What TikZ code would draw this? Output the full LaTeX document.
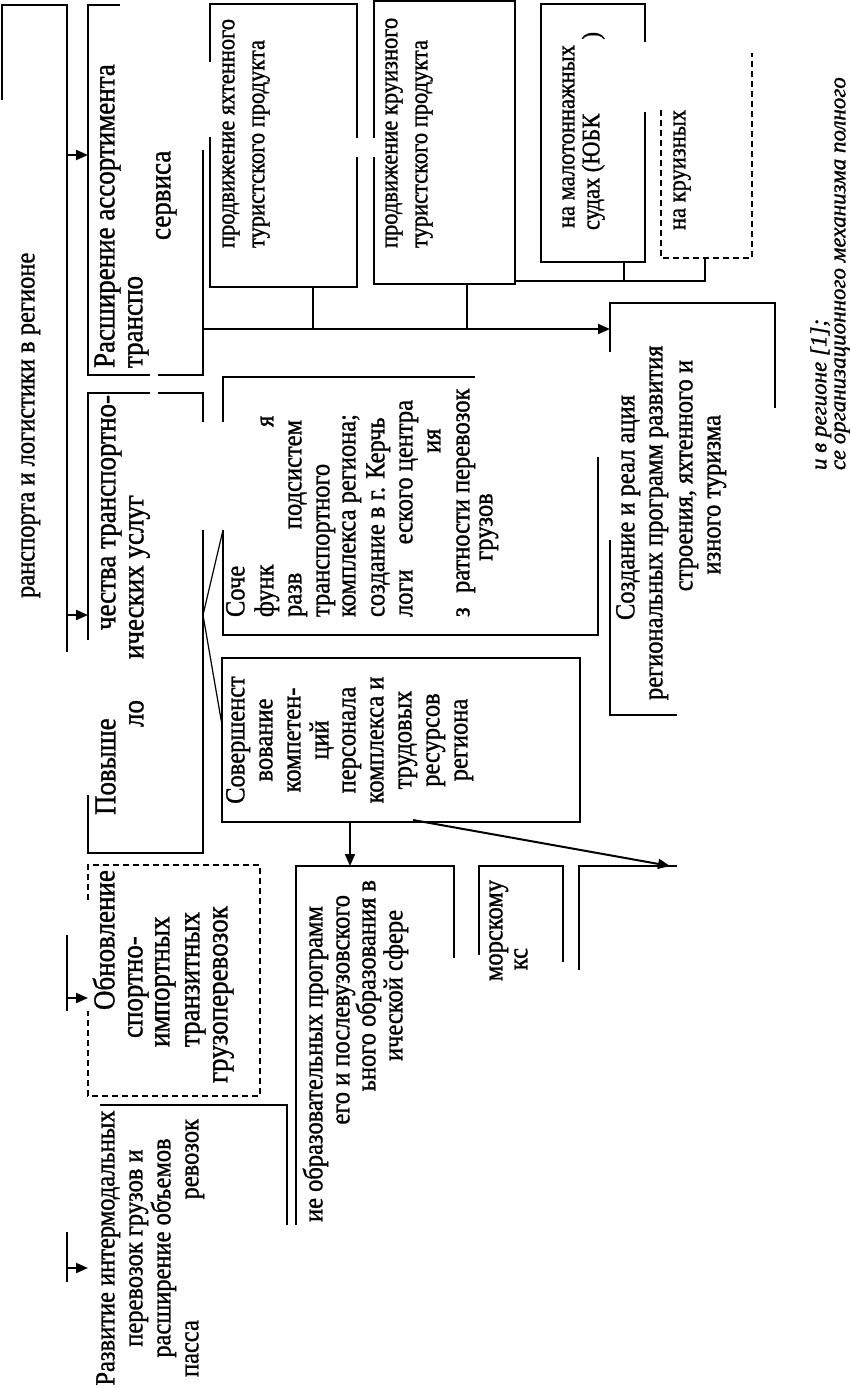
\documentclass[tikz,border=0pt]{standalone}
\usepackage{graphicx}
\usepackage{fontspec}
\setmainfont{Liberation Serif}[FakeBold=1.2]
\usetikzlibrary{arrows.meta}
\newcommand\fA{\fontsize{27}{28}\selectfont}
\newcommand\fB{\fontsize{24.5}{28}\selectfont}
\newcommand\fC{\fontsize{22.5}{28}\selectfont}
\newcommand\fD{\fontsize{23}{20}\selectfont\itshape}
\newcommand\T[1]{\scalebox{1}[1.12]{#1}}
\begin{document}
\begin{tikzpicture}[x=1pt,y=-1pt,
  bx/.style={line width=2pt},
  thn/.style={line width=1.2pt},
  dsh/.style={line width=1.8pt, dash pattern=on 6pt off 4pt},
  arr/.style={line width=2pt,-{Triangle[length=12pt,width=10pt]}},
  tx/.style={rotate=90, inner sep=0pt, outer sep=0pt}]
\useasboundingbox (0,0) rectangle (849,1389);
% ---------- frame and spine
\draw[bx] (2,100) -- (2,5) -- (67,5) -- (67,652);
\draw[bx] (67,935) -- (67,1011);
\draw[bx] (67,1232) -- (67,1282);
\coordinate (s1) at (67,155);  \coordinate (s1e) at (88,155);
\coordinate (s2) at (67,615);  \coordinate (s2e) at (88,615);
\coordinate (s3) at (67,998);  \coordinate (s3e) at (88,998);
\coordinate (s4) at (67,1268); \coordinate (s4e) at (88,1268);
\draw[arr] (s1) -- (s1e);
\draw[arr] (s2) -- (s2e);
\draw[arr] (s3) -- (s3e);
\draw[arr] (s4) -- (s4e);
\node[tx,font=\fB,anchor=mid west] (t0) at (32,598) {\T{ранспорта и логистики в регионе}};
% ---------- box A
\draw[bx] (120,5) -- (88,5) -- (88,375) -- (150,375);
\draw[bx] (158,375) -- (203,375) -- (203,150);
\node[tx,font=\fA,anchor=mid west] (a1) at (112,368) {\T{Расширение ассортимента}};
\node[tx,font=\fA,anchor=mid west] (a2) at (140,368) {\T{транспо}};
\node[tx,font=\fA,anchor=mid west] (a3) at (168,240) {\T{сервиса}};
% ---------- box B
\draw[bx] (150,393) -- (88,393) -- (88,640);
\draw[bx] (88,795) -- (88,853) -- (203,853) -- (203,530);
\draw[bx] (203,422) -- (203,393) -- (158,393);
\node[tx,font=\fA,anchor=mid west] (b1) at (113,815) {\T{Повыше}};
\node[tx,font=\fA,anchor=mid east] (b2) at (113,395) {\T{чества транспортно-}};
\node[tx,font=\fA,anchor=mid west] (b3) at (141,727) {\T{ло}};
\node[tx,font=\fA,anchor=mid east] (b4) at (141,495) {\T{ических услуг}};
% fan
\coordinate (fan) at (203,615);
\coordinate (fanF) at (223,530);
\coordinate (fanG) at (222,725);
\draw[thn] (fan) -- (fanF);
\draw[thn] (fan) -- (fanG);
% ---------- box F
\draw[bx] (223,422) -- (223,377) -- (475,377);
\draw[bx] (223,530) -- (223,635) -- (598,635) -- (598,457);
\node[tx,font=\fB,anchor=mid west] (f1) at (242,617) {\T{Соче}};
\node[tx,font=\fB,anchor=mid west] (f2) at (271,617) {\T{функ}};
\node[tx,font=\fB,anchor=mid west] (f3) at (271,427) {\T{я}};
\node[tx,font=\fB,anchor=mid west] (f4) at (299,617) {\T{разв}};
\node[tx,font=\fB,anchor=mid east] (f5) at (299,420) {\T{подсистем}};
\node[tx,font=\fB,anchor=mid west] (f6) at (327,617) {\T{транспортного}};
\node[tx,font=\fB,anchor=mid west] (f7) at (353,617) {\T{комплекса региона;}};
\node[tx,font=\fB,anchor=mid west] (f8) at (382,617) {\T{создание в г. Керчь}};
\node[tx,font=\fB,anchor=mid west] (f9) at (410,617) {\T{логи}};
\node[tx,font=\fB,anchor=mid east] (f10) at (410,400) {\T{еского центра}};
\node[tx,font=\fB,anchor=mid west] (f11) at (438,453) {\T{ия}};
\node[tx,font=\fB,anchor=mid west] (f12) at (467,617) {\T{з}};
\node[tx,font=\fB,anchor=mid west] (f13) at (467,593) {\T{ратности перевозок}};
\node[tx,font=\fB,anchor=mid] (f14) at (490,527) {\T{грузов}};
% ---------- box G
\draw[bx] (222,658) rectangle (580,822);
\node[tx,font=\fB,anchor=mid] (g1) at (242,740) {\T{Совершенст}};
\node[tx,font=\fB,anchor=mid] (g2) at (270,740) {\T{вование}};
\node[tx,font=\fB,anchor=mid] (g3) at (298,740) {\T{компетен-}};
\node[tx,font=\fB,anchor=mid] (g4) at (326,740) {\T{ций}};
\node[tx,font=\fB,anchor=mid] (g5) at (353,740) {\T{персонала}};
\node[tx,font=\fB,anchor=mid] (g6) at (381,740) {\T{комплекса и}};
\node[tx,font=\fB,anchor=mid] (g7) at (409,740) {\T{трудовых}};
\node[tx,font=\fB,anchor=mid] (g8) at (437,740) {\T{ресурсов}};
\node[tx,font=\fB,anchor=mid] (g9) at (465,740) {\T{региона}};
% ---------- box C
\draw[bx] (210,62) -- (210,4) -- (357,4) -- (357,138);
\draw[bx] (357,157) -- (357,287) -- (210,287) -- (210,137);
\node[tx,font=\fC,anchor=mid west] (c1) at (232,248) {\T{продвижение яхтенного}};
\node[tx,font=\fC,anchor=mid west] (c2) at (262,248) {\T{туристского продукта}};
% ---------- box D
\draw[bx] (374,138) -- (374,1) -- (515,1) -- (515,284) -- (374,284) -- (374,157);
\node[tx,font=\fC,anchor=mid west] (d1) at (395,248) {\T{продвижение круизного}};
\node[tx,font=\fC,anchor=mid west] (d2) at (425,248) {\T{туристского продукта}};
% bus to box E
\coordinate (busA) at (203,329);
\coordinate (dC) at (313,287);  \coordinate (dCb) at (313,329);
\coordinate (dD) at (467,284);  \coordinate (dDb) at (467,329);
\coordinate (Ein) at (610,329);
\draw[thn] (dC) -- (dCb);
\draw[thn] (dD) -- (dDb);
\draw[bx] (busA) -- (dDb);
\draw[arr] (dDb) -- (Ein);
% ---------- box K
\draw[bx] (645,42) -- (645,4) -- (541,4) -- (541,262) -- (645,262) -- (645,112);
\node[tx,font=\fC,anchor=mid west] (k1) at (572,228) {\T{на малотоннажных}};
\node[tx,font=\fC,anchor=mid west] (k2) at (597,230) {\T{судах (ЮБК}};
\node[tx,font=\fC,anchor=mid east] (k3) at (597,32) {\T{)}};
% ---------- box L (dashed)
\draw[dsh] (661,110) -- (661,258) -- (752,258) -- (752,53);
\node[tx,font=\fC,anchor=mid west] (l1) at (683,230) {\T{на круизных}};
% upper bus
\coordinate (bu0) at (515,281);
\coordinate (dK) at (624,262); \coordinate (dKb) at (624,281);
\coordinate (dL) at (705,258); \coordinate (dLb) at (705,281);
\draw[bx] (bu0) -- (dLb) -- (dL);
\draw[thn] (dK) -- (dKb);
% ---------- box E
\draw[bx] (610,352) -- (610,303) -- (775,303) -- (775,408);
\draw[bx] (610,540) -- (610,715) -- (677,715);
\node[tx,font=\fB,anchor=mid west] (e1) at (632,620) {\T{Создание и реал}};
\node[tx,font=\fB,anchor=mid east] (e2) at (632,395) {\T{ация}};
\node[tx,font=\fB,anchor=mid west] (e3) at (660,700) {\T{региональных программ развития}};
\node[tx,font=\fB,anchor=mid east] (e4) at (690,360) {\T{строения, яхтенного и}};
\node[tx,font=\fB,anchor=mid east] (e5) at (718,415) {\T{изного туризма}};
% ---------- lower boxes
\draw[bx] (296,1225) -- (296,866) -- (454,866) -- (454,958);
\node[tx,font=\fB,anchor=mid west] (h1) at (320,1222) {\T{ие образовательных программ}};
\node[tx,font=\fB,anchor=mid east] (h2) at (347,895) {\T{его и послевузовского}};
\node[tx,font=\fB,anchor=mid east] (h3) at (373,880) {\T{ьного образования в}};
\node[tx,font=\fB,anchor=mid east] (h4) at (400,910) {\T{ической сфере}};
\draw[bx] (479,955) -- (479,866) -- (563,866) -- (563,962);
\node[tx,font=\fB,anchor=mid east] (i1) at (500,880) {\T{морскому}};
\node[tx,font=\fB,anchor=mid east] (i2) at (525,948) {\T{кс}};
\draw[bx] (579,970) -- (579,866) -- (677,866);
\coordinate (gH) at (350,822); \coordinate (Htop) at (350,866);
\coordinate (gJ) at (413,820); \coordinate (Jtop) at (670,866);
\draw[arr] (gH) -- (Htop);
\draw[arr] (gJ) -- (Jtop);
% ---------- box M (dashed)
\draw[dsh] (88,900) -- (88,865) -- (260,865) -- (260,1096) -- (88,1096) -- (88,1011);
\node[tx,font=\fA,anchor=mid west] (m1) at (112,1010) {\T{Обновление}};
\node[tx,font=\fA,anchor=mid west] (m2) at (140,1038) {\T{спортно-}};
\node[tx,font=\fA,anchor=mid west] (m3) at (167,1047) {\T{импортных}};
\node[tx,font=\fA,anchor=mid west] (m4) at (197,1047) {\T{транзитных}};
\node[tx,font=\fA,anchor=mid west] (m5) at (225,1083) {\T{грузоперевозок}};
% ---------- box N
\draw[bx] (100,1105) -- (287,1105) -- (287,1225);
\node[tx,font=\fB,anchor=mid] (n1) at (112,1248) {\T{Развитие интермодальных}};
\node[tx,font=\fB,anchor=mid] (n2) at (140,1248) {\T{перевозок грузов и}};
\node[tx,font=\fB,anchor=mid] (n3) at (168,1248) {\T{расширение объемов}};
\node[tx,font=\fB,anchor=mid west] (n4) at (196,1377) {\T{пасса}};
\node[tx,font=\fB,anchor=mid east] (n5) at (196,1119) {\T{ревозок}};
% ---------- caption
\node[tx,font=\fD,anchor=mid west] (cap1) at (824,470) {и в регионе [1];};
\node[tx,font=\fD,anchor=mid west] (cap2) at (843,470) {се организационного механизма полного};
\end{tikzpicture}
\end{document}
